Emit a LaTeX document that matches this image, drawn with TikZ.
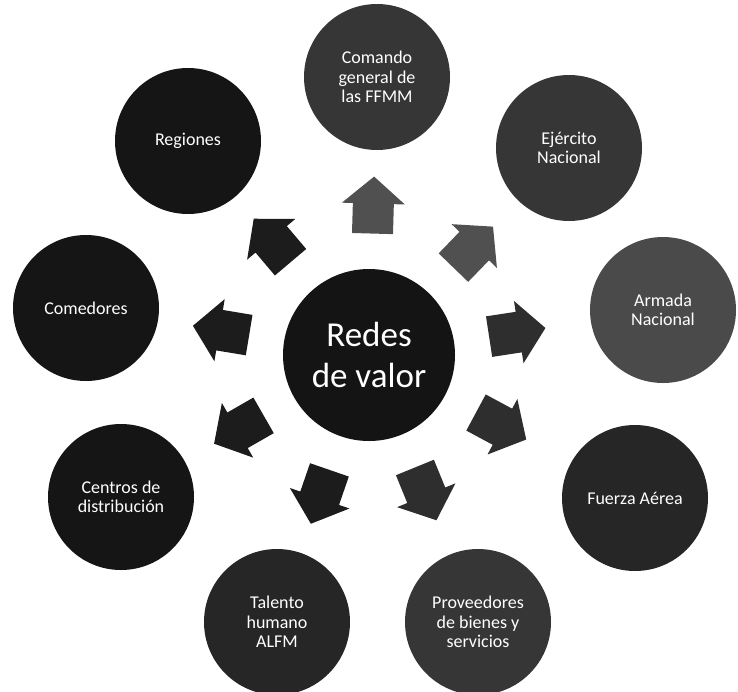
\documentclass[tikz,border=0pt]{standalone}
\usepackage{fontspec}
\setmainfont{Carlito}
\usetikzlibrary{calc}
\definecolor{hubc}{HTML}{141414}
\definecolor{sdark}{HTML}{151515}
\definecolor{smid}{HTML}{262626}
\definecolor{sgrey}{HTML}{363636}
\definecolor{slight}{HTML}{4A4A4A}
\definecolor{adark}{HTML}{1C1C1C}
\definecolor{amid}{HTML}{2E2E2E}
\definecolor{alight}{HTML}{505050}
\begin{document}
\begin{tikzpicture}[x=1pt,y=-1pt,
  hub/.style={circle, minimum size=172pt, inner sep=0pt, fill=#1, text=white,
    font=\fontsize{35}{41}\selectfont, align=center},
  sat/.style={circle, minimum size=146pt, inner sep=0pt, fill=#1, text=white,
    font=\fontsize{18}{19.5}\selectfont, align=center}]
\useasboundingbox (0,0) rectangle (738,691);
\fill[white] (0,0) rectangle (738,691);

\node[hub=hubc] (c) at (369,355) {Redes\\de valor};

\node[sat=sgrey]  (n1) at (377,77)  {Comando\\general de\\las FFMM};
\node[sat=sgrey]  (n2) at (569,148) {Ejército\\Nacional};
\node[sat=slight] (n3) at (663,310) {Armada\\Nacional};
\node[sat=smid]   (n4) at (635,498) {Fuerza Aérea};
\node[sat=sgrey]  (n5) at (478,622) {Proveedores\\de bienes y\\servicios};
\node[sat=smid]   (n6) at (277,622) {Talento\\humano\\ALFM};
\node[sat=sdark]  (n7) at (121,497) {Centros de\\distribución};
\node[sat=sdark]  (n8) at (86,308)  {Comedores};
\node[sat=sdark]  (n9) at (188,141) {Regiones};

\foreach \i/\col in {1/alight,2/alight,3/amid,4/amid,5/amid,6/adark,7/adark,8/adark,9/adark}{
  \path let \p1 = ($(n\i)-(c)$), \n1 = {atan2(\y1,\x1)} in
    \pgfextra{\xdef\ang{\n1}};
  \coordinate (m\i) at ($(c)!150pt!(n\i)$);
  \fill[\col, shift={(m\i)}, rotate=\ang]
    (-28.5,-20.5) -- (1.5,-20.5) -- (1.5,-31.5) -- (28.5,0) --
    (1.5,31.5) -- (1.5,20.5) -- (-28.5,20.5) -- cycle;
}
\end{tikzpicture}
\end{document}
